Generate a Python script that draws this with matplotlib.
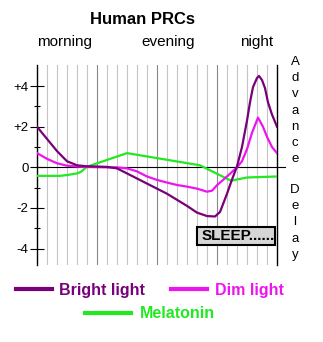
import matplotlib
matplotlib.use("Agg")
import matplotlib.pyplot as plt
from matplotlib.lines import Line2D
from matplotlib.patches import Rectangle

plt.rcParams["font.family"] = ["Liberation Sans", "DejaVu Sans"]

# data (hours after waking vs phase shift in hours)
bright_h = [0, 1, 2, 3, 4, 5, 6, 7, 8, 9, 10, 11, 12, 13, 14, 15, 16, 17, 17.8,
            18.3, 19, 19.5, 20, 20.5, 21, 21.3, 21.6, 22, 22.2, 22.5, 22.8, 23.1, 23.5, 24]
bright = [2.0, 1.4, 0.8, 0.3, 0.1, 0.05, 0.04, 0.02, -0.05, -0.3, -0.55, -0.8, -1.05,
          -1.3, -1.6, -1.9, -2.23, -2.4, -2.42, -2.2, -1.3, -0.6, 0.05, 1.0, 2.3, 3.2,
          3.95, 4.4, 4.5, 4.3, 3.9, 3.2, 2.6, 2.0]

dim_h = [0, 1, 2, 3, 4, 5, 6, 7, 8, 9, 10, 11, 12, 13, 14, 15, 16, 17, 17.5, 18, 19,
         20, 20.5, 21, 21.5, 22.1, 22.6, 23, 23.5, 24]
dim = [0.7, 0.42, 0.2, 0.08, 0.04, 0.02, 0.01, 0.0, 0.0, -0.05, -0.2, -0.45, -0.62,
       -0.75, -0.87, -0.95, -1.05, -1.2, -1.15, -0.88, -0.45, 0.0, 0.3, 0.9, 1.7, 2.45,
       2.0, 1.5, 1.0, 0.7]

mel_h = [0, 2.3, 3, 4, 4.4, 5, 9, 16.3, 19.4, 21, 24]
mel = [-0.42, -0.42, -0.38, -0.3, -0.22, 0.03, 0.7, 0.1, -0.66, -0.5, -0.45]

ytick_vals = [4, 2, 0, -2, -4]
ytick_labels = ["+4", "+2", "0", "-2", "-4"]
periods = ["morning", "evening", "night"]

PURPLE = "#780078"
MAGENTA = "#ee14ee"
GREEN = "#22e822"

W, H = 323, 342
fig = plt.figure(figsize=(W / 100, H / 100), dpi=100)


def fx(px):
    return px / W


def fy(py):
    return 1 - py / H


ax = fig.add_axes([fx(37), fy(265), fx(277) - fx(37), fy(65) - fy(265)])
ax.set_xlim(0, 24)
ax.set_ylim(-4.81, 5.04)

for h in range(1, 24):
    ax.axvline(h, color="#888888" if h % 6 == 0 else "#c4c4c4", lw=0.8, zorder=1)
ax.axhline(0, xmin=0, xmax=1.035, color="black", lw=0.8, clip_on=False, zorder=2)

ax.plot(mel_h, mel, color=GREEN, lw=1.6, zorder=3)
ax.plot(dim_h, dim, color=MAGENTA, lw=1.6, zorder=4)
ax.plot(bright_h, bright, color=PURPLE, lw=1.6, zorder=5)

for s in ["top", "bottom"]:
    ax.spines[s].set_visible(False)
ax.spines["left"].set_linewidth(1.0)
ax.spines["right"].set_linewidth(1.0)
ax.set_xticks([])
ax.set_yticks(ytick_vals)
ax.set_yticklabels(ytick_labels, fontsize=9.5)
ax.set_yticks([3, 1, -1, -3], minor=True)
ax.tick_params(axis="y", which="major", direction="inout", length=9.4, width=0.8, pad=1.5)
ax.tick_params(axis="y", which="minor", direction="inout", length=4.3, width=0.8)

# sleep box
fig.add_artist(Rectangle((fx(197), fy(245)), fx(275) - fx(197), fy(227) - fy(245),
                         transform=fig.transFigure, facecolor="#d6d6d6",
                         edgecolor="black", lw=1.5, zorder=6))
fig.text(fx(202), fy(236.5), "SLEEP......", fontsize=11, fontweight="bold",
         ha="left", va="center", zorder=7)

# titles
fig.text(fx(143), fy(20), "Human PRCs", fontsize=12, fontweight="bold",
         ha="center", va="center")
for label, cx in zip(periods, [64.5, 168, 257]):
    fig.text(fx(cx), fy(42), label, fontsize=11, ha="center", va="center")

# vertical side words
for i, ch in enumerate("Advance"):
    fig.text(fx(295), fy(62 + 16.2 * i), ch, fontsize=9.5, ha="center", va="center")
for i, ch in enumerate("Delay"):
    fig.text(fx(295), fy(190 + 16.2 * i), ch, fontsize=9.5, ha="center", va="center")

# legend
legend_items = [("Bright light", PURPLE, 16, 52, 59, 288.5),
                ("Dim light", MAGENTA, 171, 207, 215, 288.5),
                ("Melatonin", GREEN, 85, 131, 140, 312.5)]
for label, col, x0, x1, tx, yy in legend_items:
    fig.add_artist(Line2D([fx(x0), fx(x1)], [fy(yy), fy(yy)], color=col, lw=3,
                          transform=fig.transFigure))
    fig.text(fx(tx), fy(yy + 1.5), label, color=col, fontsize=11.5, fontweight="bold",
             ha="left", va="center")

fig.savefig("out.png", dpi=100)
